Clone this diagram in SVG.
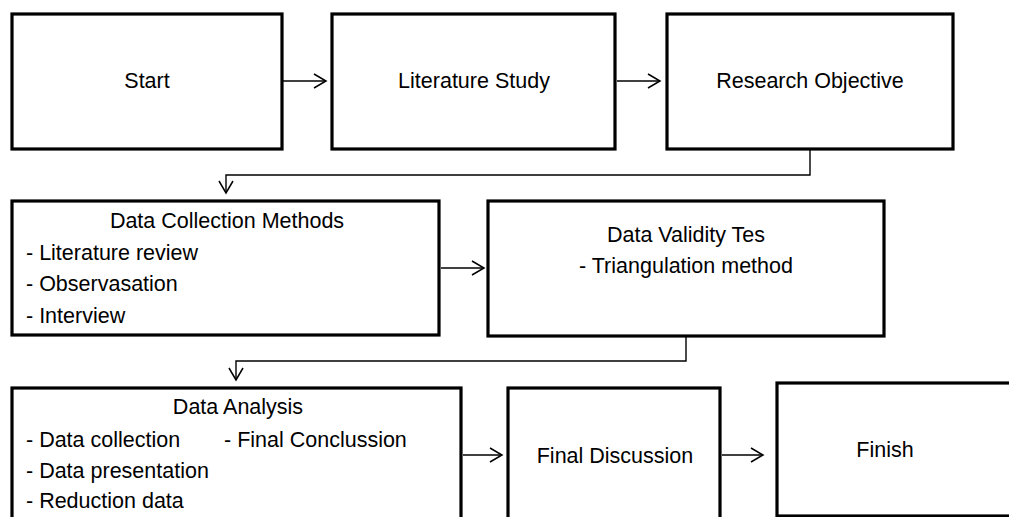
<svg xmlns="http://www.w3.org/2000/svg" width="1009" height="517" viewBox="0 0 1009 517">
<style>
.box{fill:#fff;stroke:#000;stroke-width:3.2;}
.t{font-family:"Liberation Sans",Arial,sans-serif;font-size:21.5px;fill:#000;}
.c{text-anchor:middle;}
.con{fill:none;stroke:#000;stroke-width:1.4;}
</style>
<defs>
<marker id="ah" markerUnits="userSpaceOnUse" markerWidth="16" markerHeight="18" refX="13" refY="8" orient="auto" viewBox="0 0 16 18">
<path d="M1,1 L13,8 L1,15" fill="none" stroke="#000" stroke-width="1.5"/>
</marker>
</defs>
<rect width="1009" height="517" fill="#fff"/>
<g id="connectors">
<line class="con" x1="283" y1="81" x2="326" y2="81" marker-end="url(#ah)"/>
<line class="con" x1="617" y1="81" x2="660" y2="81" marker-end="url(#ah)"/>
<polyline class="con" points="810,150 810,175 226,175 226,193" marker-end="url(#ah)"/>
<line class="con" x1="441" y1="268" x2="484" y2="268" marker-end="url(#ah)"/>
<polyline class="con" points="686,337 686,361 236,361 236,380" marker-end="url(#ah)"/>
<line class="con" x1="463" y1="455" x2="502" y2="455" marker-end="url(#ah)"/>
<line class="con" x1="722" y1="455" x2="763" y2="455" marker-end="url(#ah)"/>
</g>
<g id="start">
<rect class="box" x="12" y="14" width="270" height="135"/>
<text class="t c" x="147" y="88">Start</text>
</g>
<g id="literature-study">
<rect class="box" x="332" y="14" width="283" height="135"/>
<text class="t c" x="474" y="88">Literature Study</text>
</g>
<g id="research-objective">
<rect class="box" x="667" y="14" width="286" height="135"/>
<text class="t c" x="810" y="88">Research Objective</text>
</g>
<g id="data-collection">
<rect class="box" x="12" y="201" width="427" height="134"/>
<text class="t c" x="227" y="228">Data Collection Methods</text>
<text class="t" x="26" y="260">- Literature review</text>
<text class="t" x="26" y="291">- Observasation</text>
<text class="t" x="26" y="322.5">- Interview</text>
</g>
<g id="data-validity">
<rect class="box" x="488" y="201" width="396" height="135"/>
<text class="t c" x="686" y="242">Data Validity Tes</text>
<text class="t c" x="686" y="273">- Triangulation method</text>
</g>
<g id="data-analysis">
<rect class="box" x="12" y="388" width="449" height="140"/>
<text class="t c" x="238" y="414">Data Analysis</text>
<text class="t" x="26" y="447">- Data collection</text>
<text class="t" x="224" y="447">- Final Conclussion</text>
<text class="t" x="26" y="478">- Data presentation</text>
<text class="t" x="26" y="508">- Reduction data</text>
</g>
<g id="final-discussion">
<rect class="box" x="508" y="388" width="212" height="140"/>
<text class="t c" x="615" y="463">Final Discussion</text>
</g>
<g id="finish">
<rect class="box" x="777" y="383" width="240" height="133"/>
<text class="t c" x="885" y="457">Finish</text>
</g>
</svg>
